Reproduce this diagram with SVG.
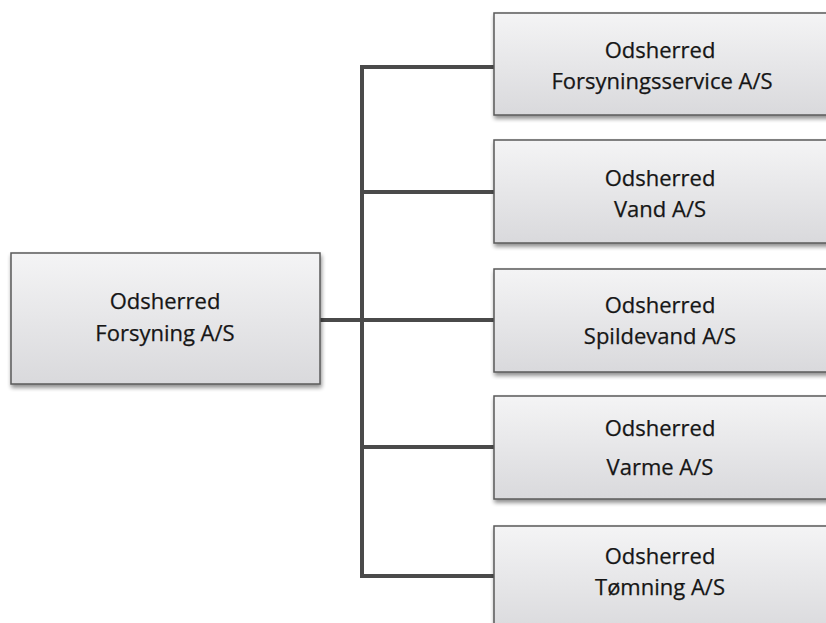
<svg xmlns="http://www.w3.org/2000/svg" width="826" height="623" viewBox="0 0 826 623">
<defs>
<linearGradient id="g" x1="0" y1="0" x2="0" y2="1">
<stop offset="0" stop-color="#f4f4f5"/>
<stop offset="1" stop-color="#d9d9dc"/>
</linearGradient>
<filter id="sh" x="-10%" y="-10%" width="130%" height="140%">
<feGaussianBlur in="SourceAlpha" stdDeviation="2"/>
<feOffset dx="1" dy="3"/>
<feComponentTransfer><feFuncA type="linear" slope="0.45"/></feComponentTransfer>
<feMerge><feMergeNode/><feMergeNode in="SourceGraphic"/></feMerge>
</filter>
</defs>
<style>
.box{fill:url(#g);stroke:#5a5a5a;stroke-width:1.5;filter:url(#sh)}
.t{font-family:"Open Sans","Liberation Sans",sans-serif;font-size:22px;fill:#161616;text-anchor:middle;stroke:#161616;stroke-width:0.25}
.c{fill:none;stroke:#4a4a4a;stroke-width:4;stroke-linejoin:miter}
</style>
<rect width="826" height="623" fill="#ffffff"/>
<g id="connectors">
<path class="c" d="M320 320 H362"/>
<path class="c" d="M494 67 H362 V576 H494"/>
<path class="c" d="M362 192 H494"/>
<path class="c" d="M362 320 H494"/>
<path class="c" d="M362 447 H494"/>
</g>
<g id="root">
<rect class="box" x="11" y="253" width="309" height="131"/>
<text class="t" x="165" y="309">Odsherred</text>
<text class="t" x="165" y="341">Forsyning A/S</text>
</g>
<g id="n1">
<rect class="box" x="494" y="13" width="340" height="102"/>
<text class="t" x="660" y="58">Odsherred</text>
<text class="t" x="662" y="89">Forsyningsservice A/S</text>
</g>
<g id="n2">
<rect class="box" x="494" y="140" width="340" height="103"/>
<text class="t" x="660" y="186">Odsherred</text>
<text class="t" x="660" y="217">Vand A/S</text>
</g>
<g id="n3">
<rect class="box" x="494" y="269" width="340" height="103"/>
<text class="t" x="660" y="313">Odsherred</text>
<text class="t" x="660" y="344">Spildevand A/S</text>
</g>
<g id="n4">
<rect class="box" x="494" y="396" width="340" height="103"/>
<text class="t" x="660" y="436">Odsherred</text>
<text class="t" x="660" y="475">Varme A/S</text>
</g>
<g id="n5">
<rect class="box" x="494" y="526" width="340" height="110"/>
<text class="t" x="660" y="564">Odsherred</text>
<text class="t" x="660" y="595">Tømning A/S</text>
</g>
</svg>
